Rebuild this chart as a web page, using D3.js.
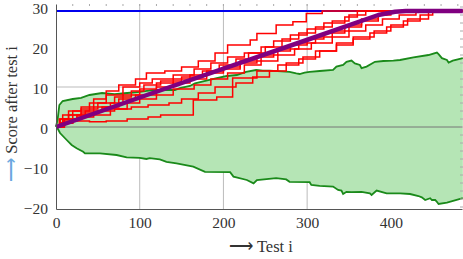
<!DOCTYPE html>
<html>
<head>
<meta charset="utf-8">
<script src="https://cdn.jsdelivr.net/npm/d3@7"></script>
<style>
  body { margin: 0; background: #fff; }
  svg { display: block; }
  .tick-label { font-family: "Liberation Serif", serif; font-size: 15.5px; fill: #333; }
</style>
</head>
<body>
<div id="chart-container"></div>
<script>
// Data: [test i, score]
const xTicks = [0, 100, 200, 300, 400]
const yTicks = [-20, -10, 0, 10, 20, 30]
const xGrid = [100, 200, 300]
const yGrid = [10]
const capScore = 29

const greenUpper = [[0,0],[2,2],[4,5.5],[8,6.5],[20,7],[30,7.3],[40,8],[55,8.5],[70,8.2],[85,8.5],[100,8.8],[115,9.2],[130,9.3],
  [142,9.25],[148,9.7],[160,10.25],[166,10.9],[192,12.2],[204,12.75],[216,13],[227,13.8],[239,14.25],[247,14.1],[255,14.1],
  [279,13.8],[287,13.4],[291,13.25],[297,13.6],[303,13.8],[315,14],[331,14.25],[335,15.1],[343,15.5],[347,16.3],[353,16.6],
  [357,15.9],[363,15.5],[365,14.7],[371,15.1],[381,16.3],[391,16.5],[403,16.6],[411,16.75],[427,17.4],[445,18],[455,18.6],
  [457,18.2],[461,17.2],[467,16.75],[469,16.1],[474,16.6],[480,16.9],[486,17.2]]

const greenLower = [[0,0],[1,0],[4.8,-1.5],[12.8,-3.25],[18.7,-4.5],[24.6,-5.3],[32.5,-6.2],[34.6,-6.6],[52.5,-6.6],[72.4,-7],
  [84.4,-7.6],[100,-7.7],[108,-8],[112,-7.8],[124,-8.1],[132,-8.7],[144,-9.1],[164,-9.9],[178,-11.2],[208,-11.3],[212,-12.4],
  [228,-13.25],[236,-14.1],[240,-13.25],[263,-12.8],[275,-13.1],[279,-13.7],[303,-13.8],[305,-14.5],[315,-14.7],[331,-14.9],
  [337,-15.75],[341,-15.9],[343,-16.75],[347,-16.2],[353,-16.3],[365,-16.2],[375,-16.6],[377,-17],[383,-15.9],[395,-16.6],
  [411,-16.6],[423,-16.75],[433,-17.25],[437,-17.6],[441,-18.25],[447,-17.8],[449,-18.25],[453,-18.25],[455,-18.7],
  [457,-19.25],[467,-18.9],[486,-17.8]]

const run1 = [[0,0],[5,2],[15,4],[30,5],[45,7],[60,9],[75,10.5],[95,12],[108,13.5],[130,14],[150,15],[170,16.5],[190,18.5],[205,20.5],[232,21.75],[240,23.4],[263,25.5],[283,26.3],[299,28.4],[318,29],[486,29]]
const run2 = [[0,0],[8,3],[20,4],[40,6],[60,8],[80,10],[100,11],[115,12],[140,13],[165,14.5],[185,16],[205,17.5],[225,18.5],[245,20],[260,21.5],[280,23],[300,24.5],[320,26],[345,27.5],[360,29],[486,29]]
const run3 = [[0,0],[6,1],[20,3],[35,4],[55,5],[75,7],[95,8],[120,10],[140,11],[160,12],[180,13.5],[200,14.5],[220,16],[240,17.5],[260,19],[280,20.5],[300,22],[320,23.5],[345,25],[365,26.5],[385,28],[400,29],[486,29]]
const run4 = [[0,0],[10,2],[25,2.5],[45,3],[65,4.5],[85,6],[100,7],[120,8],[140,9.5],[165,10.5],[185,12],[205,13.5],[225,15.5],[245,16.5],[265,18],[285,19.5],[305,21],[330,22.5],[350,24],[370,25.5],[390,27],[410,28],[430,29],[486,29]]
const run5 = [[0,0],[5,1],[20,1.5],[40,1.3],[60,1.5],[85,2],[110,2.5],[125,3],[150,3],[164,6.75],[192,7.5],[211,12.25],[240,14],[265,15.5],[290,17],[310,19],[335,21],[355,22.5],[380,24],[400,25.5],[420,27],[445,29],[486,29]]
const run6 = [[0,0],[10,2],[30,3.5],[50,4],[70,4.5],[90,5],[110,5.5],[135,6],[150,7],[170,8.5],[190,10],[215,11],[235,12.5],[255,14],[275,16],[295,17.5],[315,19],[335,20.5],[355,22],[375,23.5],[395,25],[415,26.5],[435,28],[450,29],[486,29]]
const run7 = [[0,0],[4,2],[15,3],[30,4.5],[50,6],[70,7.5],[90,9],[105,10.5],[125,11.5],[150,12.5],[175,14],[195,15.5],[215,17],[230,18.5],[250,20],[270,22],[290,23.5],[310,25],[330,26.5],[350,28],[370,29],[486,29]]
const run8 = [[0,0],[8,1.5],[25,3],[45,5],[65,6],[80,8],[100,9.5],[120,11],[140,12],[160,13],[180,14],[200,15],[220,16.5],[245,18],[265,19.5],[290,21],[310,22.5],[330,24],[350,25.5],[365,27],[385,28],[395,29],[486,29]]
const runs = [run1, run2, run3, run4, run5, run6, run7, run8]

const purpleCurve = [[0,0],[112,8.25],[303,22],[385,28],[405,28.8],[418,29],[486,29]]

const W = 463, H = 259
const svg = d3.select("#chart-container").append("svg")
  .attr("width", W).attr("height", H)

const x = d3.scaleLinear().domain([0, 485]).range([56, 462])
const y = d3.scaleLinear().domain([-20.5, 30.75]).range([209, 4])

const line = d3.line().x(d => x(d[0])).y(d => y(d[1]))

// grid lines
svg.selectAll(".gx").data(xGrid).enter().append("line")
  .attr("x1", d => x(d)).attr("x2", d => x(d))
  .attr("y1", y.range()[1]).attr("y2", y.range()[0])
  .attr("stroke", "#bbb").attr("stroke-width", 1)
svg.selectAll(".gy").data(yGrid).enter().append("line")
  .attr("x1", x.range()[0]).attr("x2", x.range()[1])
  .attr("y1", d => y(d)).attr("y2", d => y(d))
  .attr("stroke", "#bbb").attr("stroke-width", 1)

// green band
const band = greenUpper.concat(greenLower.slice().reverse())
svg.append("path")
  .attr("d", line(band) + "Z")
  .attr("fill", "#b5e5b5").attr("stroke", "none")

// zero axis line
svg.append("line")
  .attr("x1", x.range()[0]).attr("x2", x.range()[1])
  .attr("y1", y(0)).attr("y2", y(0))
  .attr("stroke", "#777").attr("stroke-width", 1)

svg.selectAll(".green").data([greenUpper, greenLower]).enter().append("path")
  .attr("d", line)
  .attr("fill", "none").attr("stroke", "#1a8a1a").attr("stroke-width", 1.8)

// blue cap line
svg.append("line")
  .attr("x1", x(0)).attr("x2", x.range()[1])
  .attr("y1", y(capScore)).attr("y2", y(capScore))
  .attr("stroke", "#0000ee").attr("stroke-width", 2)

// red runs
const stepLine = d3.line().x(d => x(d[0])).y(d => y(d[1])).curve(d3.curveStepAfter)
svg.selectAll(".run").data(runs).enter().append("path")
  .attr("d", stepLine)
  .attr("fill", "none").attr("stroke", "#ff0000").attr("stroke-width", 1.5)

// purple expected curve
svg.append("path")
  .attr("d", line(purpleCurve))
  .attr("fill", "none").attr("stroke", "#800080").attr("stroke-width", 4.5)
  .attr("stroke-linejoin", "round")

// frame axes
svg.append("g")
  .attr("transform", `translate(0,${y.range()[0]})`)
  .call(d3.axisBottom(x).tickValues(xTicks).tickSize(0).tickPadding(8))
  .call(g => g.select(".domain").attr("stroke", "#555"))
  .call(g => g.selectAll("text").attr("class", "tick-label").style("font-size", null).style("font-family", null).attr("fill", null))

svg.append("g")
  .attr("transform", `translate(${x.range()[0]},0)`)
  .call(d3.axisLeft(y).tickValues(yTicks).tickSize(0).tickPadding(8).tickFormat(d => d < 0 ? "\u2212" + Math.abs(d) : d))
  .call(g => g.select(".domain").attr("stroke", "#555"))
  .call(g => g.selectAll("text").attr("class", "tick-label").attr("dy", "0.42em").style("font-size", null).style("font-family", null).attr("fill", null))

// minor ticks on top and right edges
svg.selectAll(".tt").data(d3.range(20, 485, 20)).enter().append("line")
  .attr("x1", d => x(d)).attr("x2", d => x(d))
  .attr("y1", 4).attr("y2", 6)
  .attr("stroke", "#aaa")
svg.selectAll(".rt").data(d3.range(-20, 31, 2)).enter().append("line")
  .attr("x1", 460).attr("x2", 463)
  .attr("y1", d => y(d)).attr("y2", d => y(d))
  .attr("stroke", "#aaa")

// axis titles
svg.append("text")
  .attr("x", 261).attr("y", 252)
  .attr("text-anchor", "middle")
  .style("font-family", "Liberation Serif, serif").style("font-size", "16.5px").attr("fill", "#333")
  .text("\u27F6 Test i")

const yl = svg.append("text")
  .attr("transform", "translate(17,114) rotate(-90)")
  .attr("text-anchor", "middle")
  .style("font-family", "Liberation Serif, serif").style("font-size", "16.5px").attr("fill", "#333")
yl.append("tspan").attr("fill", "#6aa8e0").text("\u27F6 ")
yl.append("tspan").text("Score after test i")
</script>
</body>
</html>
